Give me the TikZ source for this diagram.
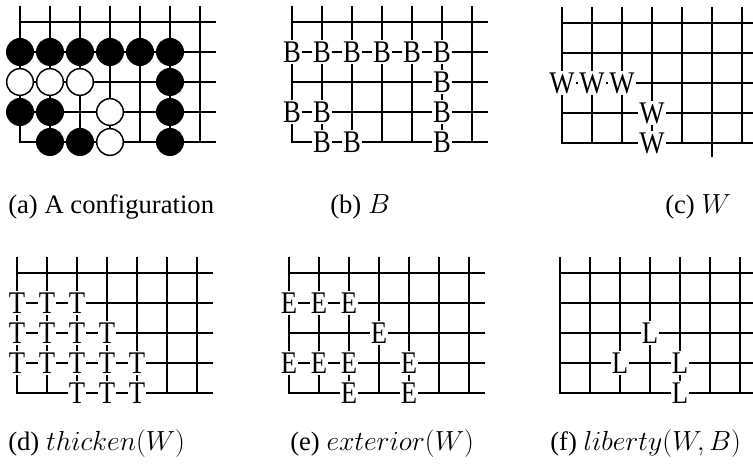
\documentclass[tikz,border=0pt]{standalone}
\usepackage{graphicx}
\usepackage{fontspec}
\setmainfont{Liberation Serif}
\usetikzlibrary{positioning}

\newcommand{\tallglyph}[1]{\scalebox{1}[1.18]{#1}}

\begin{document}
\begin{tikzpicture}[
    x=0.75pt, y=-0.75pt,
    gridline/.style={line width=1.3pt},
    edgeline/.style={line width=2.2pt},
    bstone/.style={circle, fill=black, minimum size=21pt, inner sep=0pt},
    wstone/.style={circle, draw, line width=1.1pt, fill=white, minimum size=20pt, inner sep=0pt},
    pointlbl/.style={fill=white, inner sep=1pt, font=\fontsize{20}{20}\selectfont},
    subcap/.style={anchor=base west, inner sep=0pt, font=\fontsize{20}{22}\selectfont},
  ]
  \useasboundingbox (0,0) rectangle (753,470);
  \clip (0,0) rectangle (753,470);

  % Boards (corner = bottom left point)
  \foreach \ox/\oy in {20/142, 292/142, 562/143, 17/393, 289/393, 560/393} {
    \foreach \i in {1,...,6}
      \draw[gridline] (\ox+30*\i,\oy) -- (\ox+30*\i,\oy-136);
    \foreach \j in {1,...,4}
      \draw[gridline] (\ox,\oy-30*\j) -- (\ox+196,\oy-30*\j);
    \draw[edgeline] (\ox,\oy-136) -- (\ox,\oy) -- (\ox+196,\oy);
  }
  \draw[gridline] (712,143) -- (712,157);

  % (a) Stones
  \foreach \c/\r in {0/3,1/3,2/3,3/3,4/3,5/3,5/2,0/1,1/1,5/1,1/0,2/0,5/0}
    \node[bstone] (a-\c-\r) at (20+30*\c,142-30*\r) {};
  \foreach \c/\r in {0/2,1/2,2/2,3/1,3/0}
    \node[wstone] (a-\c-\r) at (20+30*\c,142-30*\r) {};

  % (b) B
  \foreach \c/\r in {0/3,1/3,2/3,3/3,4/3,5/3,5/2,0/1,1/1,5/1,1/0,2/0,5/0}
    \node[pointlbl] (b-\c-\r) at (292+30*\c,142-30*\r) {\tallglyph{B}};

  % (c) W
  \foreach \c/\r in {0/2,1/2,2/2,3/1,3/0}
    \node[pointlbl] (c-\c-\r) at (562+30*\c,143-30*\r) {\tallglyph{W}};

  % (d) thicken
  \foreach \c/\r in {0/3,1/3,2/3,0/2,1/2,2/2,3/2,0/1,1/1,2/1,3/1,4/1,2/0,3/0,4/0}
    \node[pointlbl] (d-\c-\r) at (17+30*\c,393-30*\r) {\tallglyph{T}};

  % (e) exterior
  \foreach \c/\r in {0/3,1/3,2/3,3/2,0/1,1/1,2/1,4/1,2/0,4/0}
    \node[pointlbl] (e-\c-\r) at (289+30*\c,393-30*\r) {\tallglyph{E}};

  % (f) liberty
  \foreach \c/\r in {3/2,2/1,4/1,4/0}
    \node[pointlbl] (f-\c-\r) at (560+30*\c,393-30*\r) {\tallglyph{L}};

  % Captions
  \node[subcap] (capa) at (8,214)   {(a) A configuration};
  \node[subcap] (capb) at (330,214) {(b) $B$};
  \node[subcap] (capc) at (665,214) {(c) $W$};
  \node[subcap] (capd) at (8,450)   {(d) $thicken(W)$};
  \node[subcap] (cape) at (290,450) {(e) $exterior(W)$};
  \node[subcap] (capf) at (550,450) {(f) $liberty(W,B)$};
\end{tikzpicture}
\end{document}
